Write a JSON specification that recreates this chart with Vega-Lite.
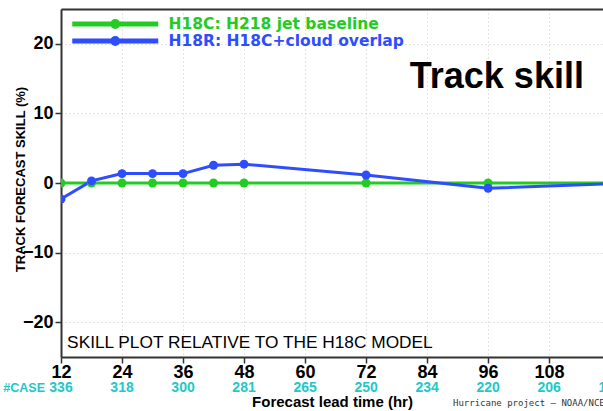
{
  "$schema": "https://vega.github.io/schema/vega-lite/v6.json",
  "width": 542,
  "height": 348,
  "autosize": {"type": "none"},
  "padding": {"left": 61, "top": 9, "right": 0, "bottom": 54},
  "background": "white",
  "config": {"view": {"stroke": null}},
  "datasets": {
    "skill": [
      {"hour": 12, "model": "H18C", "label": "H18C: H218 jet baseline", "skill": 0},
      {"hour": 18, "model": "H18C", "label": "H18C: H218 jet baseline", "skill": 0},
      {"hour": 24, "model": "H18C", "label": "H18C: H218 jet baseline", "skill": 0},
      {"hour": 30, "model": "H18C", "label": "H18C: H218 jet baseline", "skill": 0},
      {"hour": 36, "model": "H18C", "label": "H18C: H218 jet baseline", "skill": 0},
      {"hour": 42, "model": "H18C", "label": "H18C: H218 jet baseline", "skill": 0},
      {"hour": 48, "model": "H18C", "label": "H18C: H218 jet baseline", "skill": 0},
      {"hour": 72, "model": "H18C", "label": "H18C: H218 jet baseline", "skill": 0},
      {"hour": 96, "model": "H18C", "label": "H18C: H218 jet baseline", "skill": 0},
      {"hour": 120, "model": "H18C", "label": "H18C: H218 jet baseline", "skill": 0},
      {"hour": 12, "model": "H18R", "label": "H18R: H18C+cloud overlap", "skill": -2.3},
      {"hour": 18, "model": "H18R", "label": "H18R: H18C+cloud overlap", "skill": 0.3},
      {"hour": 24, "model": "H18R", "label": "H18R: H18C+cloud overlap", "skill": 1.35},
      {"hour": 30, "model": "H18R", "label": "H18R: H18C+cloud overlap", "skill": 1.35},
      {"hour": 36, "model": "H18R", "label": "H18R: H18C+cloud overlap", "skill": 1.35},
      {"hour": 42, "model": "H18R", "label": "H18R: H18C+cloud overlap", "skill": 2.55},
      {"hour": 48, "model": "H18R", "label": "H18R: H18C+cloud overlap", "skill": 2.7},
      {"hour": 72, "model": "H18R", "label": "H18R: H18C+cloud overlap", "skill": 1.15},
      {"hour": 96, "model": "H18R", "label": "H18R: H18C+cloud overlap", "skill": -0.75},
      {"hour": 120, "model": "H18R", "label": "H18R: H18C+cloud overlap", "skill": -0.1}
    ],
    "cases": [
      {"hour": 12, "cases": 336},
      {"hour": 24, "cases": 318},
      {"hour": 36, "cases": 300},
      {"hour": 48, "cases": 281},
      {"hour": 60, "cases": 265},
      {"hour": 72, "cases": 250},
      {"hour": 84, "cases": 234},
      {"hour": 96, "cases": 220},
      {"hour": 108, "cases": 206},
      {"hour": 120, "cases": 192}
    ]
  },
  "resolve": {"axis": {"x": "independent"}},
  "layer": [
    {
      "data": {"name": "skill"},
      "mark": {
        "type": "line",
        "strokeWidth": 3,
        "clip": true,
        "point": {"filled": true, "size": 80}
      },
      "encoding": {
        "x": {
          "field": "hour",
          "type": "quantitative",
          "scale": {"domain": [12, 118.6], "nice": false, "zero": false},
          "axis": {
            "orient": "bottom",
            "values": [12, 24, 36, 48, 60, 72, 84, 96, 108, 120],
            "title": "Forecast lead time (hr)",
            "labelFlush": false,
            "labelOverlap": false,
            "labelFont": "Liberation Sans",
            "labelFontWeight": "bold",
            "labelFontSize": 18,
            "labelColor": "#000000",
            "labelPadding": 0,
            "tickSize": 6,
            "tickWidth": 1.5,
            "tickColor": "#333333",
            "domainColor": "#333333",
            "domainWidth": 2,
            "grid": true,
            "gridColor": "#c8c8c8",
            "gridDash": [1, 3],
            "gridWidth": 1,
            "titleFont": "Liberation Sans",
            "titleFontWeight": "bold",
            "titleFontSize": 15,
            "titleColor": "#000000",
            "titleBaseline": "middle",
            "titleY": 44
          }
        },
        "y": {
          "field": "skill",
          "type": "quantitative",
          "scale": {"domain": [-25, 25], "nice": false, "zero": false},
          "axis": {
            "values": [-20, -10, 0, 10, 20],
            "title": "TRACK FORECAST SKILL (%)",
            "labelFont": "Liberation Sans",
            "labelFontWeight": "bold",
            "labelFontSize": 18,
            "labelColor": "#000000",
            "labelPadding": 2,
            "tickSize": 6,
            "tickWidth": 1.5,
            "tickColor": "#333333",
            "domainColor": "#333333",
            "domainWidth": 2,
            "grid": true,
            "gridColor": "#c8c8c8",
            "gridDash": [1, 3],
            "gridWidth": 1,
            "titleFont": "Liberation Sans",
            "titleFontWeight": "bold",
            "titleFontSize": 13,
            "titleColor": "#000000",
            "titleAngle": -90,
            "titleAlign": "center",
            "titleBaseline": "middle",
            "titleX": -41,
            "titleY": 170
          }
        },
        "color": {
          "field": "label",
          "type": "nominal",
          "scale": {
            "domain": ["H18C: H218 jet baseline", "H18R: H18C+cloud overlap"],
            "range": ["#22cc22", "#2d4dff"]
          },
          "legend": {
            "orient": "none",
            "legendX": 0,
            "legendY": 7,
            "title": null,
            "padding": 0,
            "clipHeight": 16,
            "symbolType": "M-8.6,0L8.6,0M0.5,0A0.5,0.5,0,1,1,-0.5,0A0.5,0.5,0,1,1,0.5,0Z",
            "symbolSize": 100,
            "symbolStrokeWidth": 5,
            "symbolOffset": 46.5,
            "labelOffset": 45.5,
            "labelFont": "DejaVu Sans",
            "labelFontWeight": "bold",
            "labelFontSize": 15.5,
            "labelLimit": 400,
            "rowPadding": 0,
            "encode": {
              "symbols": {
                "update": {
                  "fill": {"scale": "color", "field": "value"},
                  "stroke": {"scale": "color", "field": "value"},
                  "opacity": {"value": 1}
                }
              },
              "labels": {
                "update": {"fill": {"scale": "color", "field": "value"}}
              }
            }
          }
        }
      }
    },
    {
      "data": {"values": [{}]},
      "mark": {
        "type": "text",
        "text": "Track skill",
        "font": "Liberation Sans",
        "fontWeight": "bold",
        "fontSize": 36,
        "color": "#000000",
        "align": "left",
        "baseline": "alphabetic"
      },
      "encoding": {
        "x": {
          "datum": 80.6,
          "type": "quantitative",
          "axis": {
            "orient": "top",
            "labels": false,
            "ticks": false,
            "grid": false,
            "domain": true,
            "domainColor": "#333333",
            "domainWidth": 2,
            "title": null
          }
        },
        "y": {"datum": 13.65, "type": "quantitative"}
      }
    },
    {
      "data": {"values": [{}]},
      "mark": {
        "type": "text",
        "text": "SKILL PLOT RELATIVE TO THE H18C MODEL",
        "font": "Liberation Sans",
        "fontSize": 17.3,
        "color": "#000000",
        "align": "left",
        "baseline": "alphabetic"
      },
      "encoding": {
        "x": {"datum": 13.2, "type": "quantitative", "axis": null},
        "y": {"datum": -23.7, "type": "quantitative"}
      }
    },
    {
      "data": {"name": "cases"},
      "mark": {
        "type": "text",
        "font": "Liberation Sans",
        "fontWeight": "bold",
        "fontSize": 14,
        "color": "#22c8c8",
        "align": "center",
        "baseline": "middle"
      },
      "encoding": {
        "x": {"field": "hour", "type": "quantitative", "axis": null},
        "y": {"datum": -29.5, "type": "quantitative"},
        "text": {"field": "cases", "type": "quantitative"}
      }
    },
    {
      "data": {"values": [{}]},
      "mark": {
        "type": "text",
        "text": "#CASE",
        "font": "Liberation Sans",
        "fontWeight": "bold",
        "fontSize": 12.5,
        "color": "#22c8c8",
        "align": "right",
        "baseline": "middle"
      },
      "encoding": {
        "x": {"datum": 8.85, "type": "quantitative", "axis": null},
        "y": {"datum": -29.5, "type": "quantitative"}
      }
    },
    {
      "data": {"values": [{}]},
      "mark": {
        "type": "text",
        "text": "Hurricane project – NOAA/NCEP/EMC",
        "font": "DejaVu Sans Mono",
        "fontSize": 9,
        "color": "#333333",
        "align": "left",
        "baseline": "middle"
      },
      "encoding": {
        "x": {"datum": 89.1, "type": "quantitative", "axis": null},
        "y": {"datum": -31.6, "type": "quantitative"}
      }
    }
  ]
}
